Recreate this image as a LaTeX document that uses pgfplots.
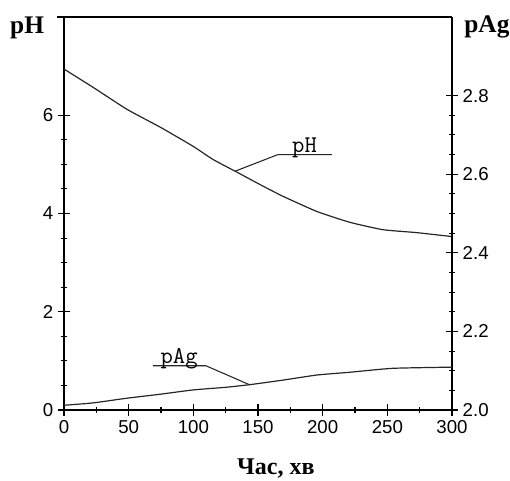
\documentclass[border=0pt]{standalone}
\usepackage{fontspec}
\setmainfont{Liberation Serif}
\setsansfont{Liberation Sans}
\usepackage{pgfplots}
\pgfplotsset{compat=1.18}

% pH, left axis
\pgfplotstableread{
x y
0 6.94
22.4 6.57
48.7 6.12
74.2 5.76
99.7 5.37
115.2 5.10
133.8 4.84
151.5 4.59
169.3 4.35
195.6 4.04
221.1 3.82
246.6 3.67
272.9 3.61
300 3.53
}\phdata

% pAg, right axis
\pgfplotstableread{
x y
0 2.012
22.4 2.018
48.7 2.030
74.2 2.040
99.7 2.051
126 2.058
145 2.065
169.3 2.076
195.6 2.089
221 2.096
254 2.106
300 2.109
}\pagdata

\pgfplotsset{
  base/.style={
    scale only axis,width=291pt,height=294.75pt,
    xmin=0,xmax=300,
    tick align=center,major tick length=9pt,minor tick length=4pt,
    every tick/.style={black,line width=0.8pt},
    axis line style={line width=0.8pt},
    tick label style={font=\sffamily\fontsize{14}{14}\selectfont},
    /pgf/number format/assume math mode=true,
  },
}

\begin{document}
\begin{tikzpicture}
\begin{axis}[base,name=ax,
  ymin=0,ymax=8,
  ytick={0,2,4,6},minor y tick num=3,
  xtick={0,50,...,300},minor x tick num=1,
  axis y line*=left,axis x line*=bottom,
  clip=false,
]
\addplot[black!85,line width=0.9pt,smooth,tension=0.3] table[x=x,y=y] {\phdata};
% callout lines
\draw[black!85,line width=0.8pt] (axis cs:132.2,4.86) -- (axis cs:165.5,5.20) -- (axis cs:207.2,5.20);
\node[anchor=base,font=\ttfamily\fontsize{18}{18}\selectfont,inner sep=0pt] at (axis cs:186,5.25) {pH};
\draw[black!85,line width=0.8pt] (axis cs:68.8,0.90) -- (axis cs:109.8,0.90) -- (axis cs:143.8,0.51);
\node[anchor=base,font=\ttfamily\fontsize{18}{18}\selectfont,inner sep=0pt] at (axis cs:89,0.95) {pAg};
% axis titles
\node[font=\bfseries\fontsize{19}{19}\selectfont] at (rel axis cs:-0.095,0.972) {pH};
\node[font=\bfseries\fontsize{19}{19}\selectfont] at (rel axis cs:1.09,0.975) {pAg};
\node[font=\bfseries\fontsize{18}{18}\selectfont] at (rel axis cs:0.546,-0.15) {Час, хв};
\draw[line width=0.8pt] (rel axis cs:-0.018,1) -- (rel axis cs:1,1);
\end{axis}
\begin{axis}[base,
  ymin=2.0,ymax=3.0,
  ytick={2.0,2.2,2.4,2.6,2.8},minor y tick num=3,
  yticklabel style={/pgf/number format/.cd,fixed,fixed zerofill,precision=1},
  axis y line*=right,axis x line=none,
]
\addplot[black!85,line width=0.9pt,smooth,tension=0.3] table[x=x,y=y] {\pagdata};
\end{axis}
\pgfresetboundingbox
\path (ax.south west) ++(-48pt,-53.25pt) coordinate (bl);
\path (ax.north east) ++(43.5pt,12.75pt) coordinate (tr);
\useasboundingbox (bl) rectangle (tr);
\end{tikzpicture}
\end{document}
